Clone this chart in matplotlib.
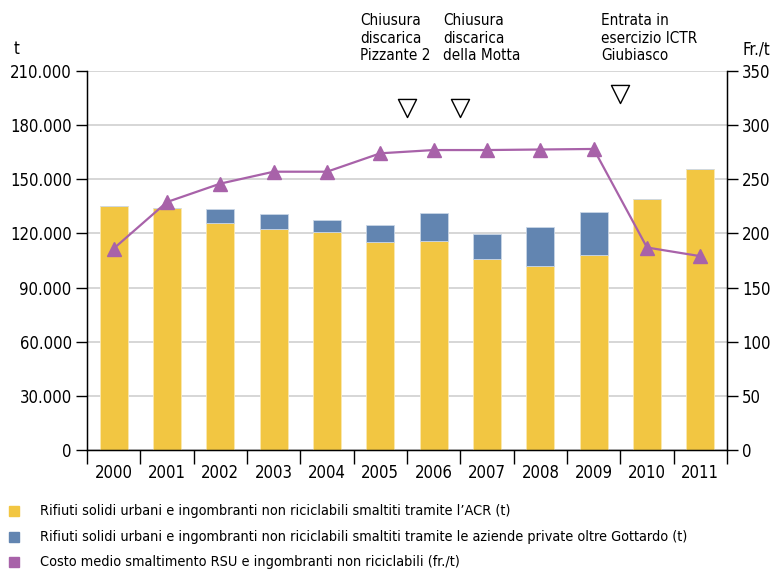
import numpy as np
import matplotlib.pyplot as plt
from matplotlib import font_manager

# font: narrow / condensed look
names = {f.name for f in font_manager.fontManager.ttflist}
if 'Liberation Sans Narrow' in names:
    plt.rcParams['font.family'] = 'Liberation Sans Narrow'
else:
    plt.rcParams['font.family'] = 'DejaVu Sans'
    plt.rcParams['font.stretch'] = 'condensed'

years = ['2000', '2001', '2002', '2003', '2004', '2005',
         '2006', '2007', '2008', '2009', '2010', '2011']
acr_t = [135300, 134100, 125600, 122400, 121000, 115200,
         116000, 105600, 101900, 108000, 138900, 155700]
private_t = [0, 0, 7700, 8200, 6600, 9600,
             15500, 13900, 21500, 24000, 0, 0]
cost_fr = [186, 229, 246, 257, 257, 274,
           277, 277, 277.5, 278, 187, 179]

events = ['Chiusura\ndiscarica\nPizzante 2',
          'Chiusura\ndiscarica\ndella Motta',
          'Entrata in\nesercizio ICTR\nGiubiasco']
event_pos = [5.5, 6.5, 9.5]
event_y = [189500, 189500, 197500]

legend_labels = [
    'Rifiuti solidi urbani e ingombranti non riciclabili smaltiti tramite l\u2019ACR (t)',
    'Rifiuti solidi urbani e ingombranti non riciclabili smaltiti tramite le aziende private oltre Gottardo (t)',
    'Costo medio smaltimento RSU e ingombranti non riciclabili (fr./t)',
]

yellow = '#F2C642'
blue = '#6285B1'
purple = '#A862A9'

fig = plt.figure(figsize=(7.72, 5.7), dpi=100)
ax = fig.add_axes([87 / 772, 120 / 570, 640 / 772, 379 / 570])

x = np.arange(len(years))
ax.bar(x, acr_t, width=0.52, color=yellow, edgecolor='#FBE9B0', linewidth=0.6, zorder=2)
ax.bar(x, private_t, width=0.52, bottom=acr_t, color=blue, edgecolor='#C9D6E6',
       linewidth=0.6, zorder=2)

ax.set_xlim(-0.5, 11.5)
ax.set_ylim(0, 210000)
yt = np.arange(0, 210001, 30000)
ax.set_yticks(yt)
ax.set_yticklabels(['0' if v == 0 else f'{v:,.0f}'.replace(',', '.') for v in yt], fontsize=12)
ax.yaxis.grid(True, color='#D0D0D0', linewidth=1.2, zorder=0)
ax.set_axisbelow(True)
ax.tick_params(axis='y', length=8, width=1, direction='out', pad=3)

ax.set_xticks(x)
ax.set_xticklabels(years, fontsize=12)
ax.set_xticks(np.arange(-0.5, 12, 1), minor=True)
ax.tick_params(axis='x', which='major', length=0, pad=10)
ax.tick_params(axis='x', which='minor', length=10, width=1, direction='out')

ax.spines['top'].set_visible(False)
for s in ['left', 'right', 'bottom']:
    ax.spines[s].set_linewidth(1)

ax2 = ax.twinx()
ax2.set_ylim(0, 350)
ax2.set_yticks(np.arange(0, 351, 50))
ax2.tick_params(axis='y', length=8, width=1, direction='out', pad=3, labelsize=12)
ax2.spines['top'].set_visible(False)
ax2.plot(x, cost_fr, color=purple, linewidth=1.6, marker='^', markersize=10,
         markeredgecolor=purple, zorder=3)

# event markers and notes
ax.scatter(event_pos, event_y, marker='v', s=170, facecolor='white',
           edgecolor='black', linewidth=1, zorder=4, clip_on=False)
for txt, px in zip(events, [360, 443, 601]):
    fig.text(px / 772, 1 - 13 / 570, txt, fontsize=11, ha='left', va='top',
             linespacing=1.22)

fig.text(14 / 772, 1 - 58 / 570, 't', fontsize=12, ha='left', va='bottom')
fig.text(742 / 772, 1 - 58 / 570, 'Fr./t', fontsize=12, ha='left', va='bottom')

# legend rows
cols = [yellow, blue, purple]
for i, (lab, c) in enumerate(zip(legend_labels, cols)):
    yy = 1 - (511 + i * 25.5) / 570
    fig.patches.append(plt.Rectangle((9 / 772, yy - 5 / 570), 10 / 772, 10 / 570,
                                     transform=fig.transFigure, color=c))
    fig.text(40 / 772, yy, lab, fontsize=10.4, va='center', ha='left')

fig.savefig('out.png', dpi=100)
